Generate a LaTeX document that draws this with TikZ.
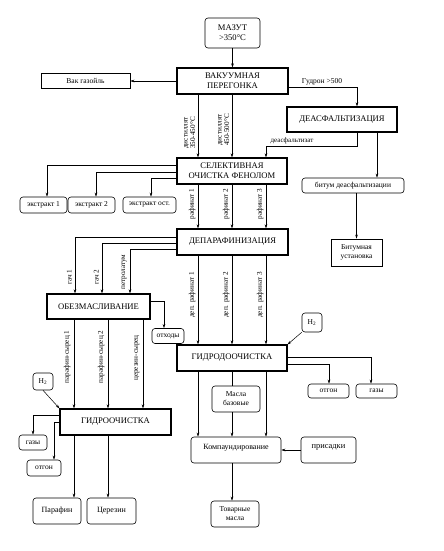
\documentclass[tikz,border=0pt]{standalone}
\usepackage{fontspec}
\setmainfont{Liberation Serif}
\usetikzlibrary{arrows.meta}
\begin{document}
\begin{tikzpicture}[x=1pt,y=-1pt,
  every node/.style={inner sep=1pt, align=center},
  tbox/.style={draw, line width=1.1pt, font=\fontsize{8.6}{10}\selectfont},
  rbox/.style={draw, line width=0.6pt, rounded corners=3pt, font=\fontsize{7.5}{9}\selectfont},
  sbox/.style={draw, line width=0.6pt, font=\fontsize{7.5}{9}\selectfont},
  lbl/.style={font=\fontsize{7.2}{7.6}\selectfont, rotate=90, anchor=south, inner sep=1.5pt},
  txt/.style={font=\fontsize{7.5}{9}\selectfont},
  arr/.style={draw, line width=0.5pt, -{Stealth[length=4pt,width=2.6pt]}},
  ln/.style={draw, line width=0.5pt},
]
\useasboundingbox[fill=white] (0,0) rectangle (444,551);

% columns
\coordinate (xA) at (198,0);
\coordinate (xB) at (232,0);
\coordinate (xC) at (266,0);

% nodes
\node[rbox, minimum width=55pt, minimum height=30pt, font=\fontsize{8.6}{10}\selectfont] (mazut) at (232.5,33) {МАЗУТ\\>350°С};
\node[tbox, minimum width=111pt, minimum height=26pt] (vp) at (232.5,81) {ВАКУУМНАЯ\\ПЕРЕГОНКА};
\node[sbox, minimum width=89pt, minimum height=15pt] (vak) at (85.5,81) {Вак газойль};
\node[tbox, minimum width=110pt, minimum height=25pt] (deasf) at (342,119.5) {ДЕАСФАЛЬТИЗАЦИЯ};
\node[tbox, minimum width=110pt, minimum height=26pt] (sel) at (232,171) {СЕЛЕКТИВНАЯ\\ОЧИСТКА ФЕНОЛОМ};
\node[rbox, minimum width=47pt, minimum height=16pt] (e1) at (43.5,205) {экстракт 1};
\node[rbox, minimum width=47pt, minimum height=16pt] (e2) at (91.5,205) {экстракт 2};
\node[rbox, minimum width=53pt, minimum height=16pt] (e3) at (149.5,205) {экстракт ост.};
\node[rbox, minimum width=102pt, minimum height=15pt] (bitum) at (353,185.5) {битум деасфальтизации};
\node[sbox, line width=0.9pt, minimum width=51pt, minimum height=27pt] (bu) at (356.5,252.5) {Битумная\\установка};
\node[tbox, minimum width=111pt, minimum height=26pt] (dep) at (232.5,242) {ДЕПАРАФИНИЗАЦИЯ};
\node[tbox, minimum width=103pt, minimum height=25pt] (obez) at (98.5,306.5) {ОБЕЗМАСЛИВАНИЕ};
\node[rbox, minimum width=32pt, minimum height=15pt] (otx) at (168,336) {отходы};
\node[tbox, minimum width=110pt, minimum height=26pt] (gdo) at (232,358) {ГИДРОДООЧИСТКА};
\node[rbox, minimum width=20pt, minimum height=19pt] (h2r) at (312,322.5) {H\textsubscript{2}};
\node[rbox, minimum width=41pt, minimum height=14pt] (otgR) at (328.5,391) {отгон};
\node[rbox, minimum width=41pt, minimum height=14pt] (gazR) at (376.5,391) {газы};
\node[rbox, minimum width=48pt, minimum height=26pt] (masla) at (236,399) {Масла\\базовые};
\node[rbox, minimum width=20pt, minimum height=17pt] (h2l) at (43,381.5) {H\textsubscript{2}};
\node[tbox, minimum width=111pt, minimum height=26pt] (go) at (115.5,422) {ГИДРООЧИСТКА};
\node[rbox, minimum width=28pt, minimum height=15pt] (gazL) at (33,442.5) {газы};
\node[rbox, minimum width=34pt, minimum height=16pt] (otgL) at (44,468) {отгон};
\node[rbox, minimum width=48pt, minimum height=26pt, font=\fontsize{8}{9.5}\selectfont] (paraf) at (57,511) {Парафин};
\node[rbox, minimum width=49pt, minimum height=26pt, font=\fontsize{8}{9.5}\selectfont] (cerez) at (111.5,511) {Церезин};
\node[rbox, minimum width=90pt, minimum height=26pt, text depth=7pt, font=\fontsize{8}{9.5}\selectfont] (komp) at (236,450) {Компаундирование};
\node[rbox, minimum width=55pt, minimum height=26pt, text depth=7pt, font=\fontsize{8.4}{9.5}\selectfont] (pris) at (328.5,450) {присадки};
\node[rbox, minimum width=48pt, minimum height=26pt] (tov) at (235,514) {Товарные\\масла};

% connectors top
\draw[arr] (mazut) -- (vp);
\draw[arr] (vp.west) -- (vp.west -| vak.east);
\coordinate (g1) at (357,87);
\draw[arr] (vp.east |- g1) -- (g1) -- (deasf.north -| g1);
\node[txt, anchor=south] (gudlbl) at (322,86) {Гудрон >500};

\draw[arr] (vp.south -| xA) -- (sel.north -| xA);
\draw[arr] (vp.south -| xB) -- (sel.north -| xB);
\node[lbl] (dl1) at (197,133) {дистиллят\\350-450°С};
\node[lbl] (dl2) at (231,130) {дистиллят\\450-500°С};

\coordinate (d1) at (357,146);
\draw[arr] (deasf.south -| d1) -- (d1) -- (d1 -| xC) -- (sel.north -| xC);
\node[txt, anchor=south, font=\fontsize{7}{8}\selectfont] (deaslbl) at (292,145.5) {деасфальтизат};
\coordinate (b1) at (377,0);
\draw[arr] (deasf.south -| b1) -- (bitum.north -| b1);
\draw[arr] (bitum.south -| bu.north) -- (bu.north);

% extracts
\coordinate (ex1) at (47,165);
\coordinate (ex2) at (96,172);
\coordinate (ex3) at (151,178);
\draw[arr] (sel.west |- ex1) -- (ex1) -- (e1.north -| ex1);
\draw[arr] (sel.west |- ex2) -- (ex2) -- (e2.north -| ex2);
\draw[arr] (sel.west |- ex3) -- (ex3) -- (e3.north -| ex3);

% raffinates
\draw[arr] (sel.south -| xA) -- (dep.north -| xA);
\draw[arr] (sel.south -| xB) -- (dep.north -| xB);
\draw[arr] (sel.south -| xC) -- (dep.north -| xC);
\node[lbl] (r1) at (197,204) {рафинат 1};
\node[lbl] (r2) at (231,204) {рафинат 2};
\node[lbl] (r3) at (265,204) {рафинат 3};

% gach
\coordinate (gc1) at (75,237);
\coordinate (gc2) at (102,243);
\coordinate (gc3) at (130,249);
\draw[arr] (dep.west |- gc1) -- (gc1) -- (obez.north -| gc1);
\draw[arr] (dep.west |- gc2) -- (gc2) -- (obez.north -| gc2);
\draw[arr] (dep.west |- gc3) -- (gc3) -- (obez.north -| gc3);
\node[lbl] (gl1) at (73.5,277) {гач 1};
\node[lbl] (gl2) at (100.5,277) {гач 2};
\node[lbl] (gl3) at (128.5,272) {петролатум};

\coordinate (ox) at (164,301);
\draw[arr] (obez.east |- ox) -- (ox) -- (otx.north -| ox);

% dep raffinates
\draw[arr] (dep.south -| xA) -- (gdo.north -| xA);
\draw[arr] (dep.south -| xB) -- (gdo.north -| xB);
\draw[arr] (dep.south -| xC) -- (gdo.north -| xC);
\node[lbl] (dr1) at (197,295) {деп. рафинат 1};
\node[lbl] (dr2) at (231,295) {деп. рафинат 2};
\node[lbl] (dr3) at (265,295) {деп. рафинат 3};

\draw[arr] (h2r.south west) -- (gdo.north east);
\coordinate (gr1) at (371,357);
\coordinate (gr2) at (329,364);
\draw[arr] (gdo.east |- gr1) -- (gr1) -- (gazR.north -| gr1);
\draw[arr] (gdo.east |- gr2) -- (gr2) -- (otgR.north -| gr2);

% paraffin
\coordinate (p1) at (74,0);
\coordinate (p2) at (108,0);
\coordinate (p3) at (143,0);
\draw[arr] (obez.south -| p1) -- (go.north -| p1);
\draw[arr] (obez.south -| p2) -- (go.north -| p2);
\draw[arr] (obez.south -| p3) -- (go.north -| p3);
\node[lbl] (pl1) at (72,357) {парафин-сырец 1};
\node[lbl] (pl2) at (106,357) {парафин-сырец 2};
\node[lbl] (pl3) at (141,358) {церезин-сырец};

\draw[arr] (h2l.south) -- (go.north west);
\coordinate (gw1) at (33,415);
\coordinate (gw2) at (54,422);
\draw[arr] (go.west |- gw1) -- (gw1) -- (gazL.north -| gw1);
\draw[arr] (go.west |- gw2) -- (gw2) -- (otgL.north -| gw2);
\draw[arr] (go.south -| p1) -- (paraf.north -| p1);
\draw[arr] (go.south -| p2) -- (cerez.north -| p2);

% compounding
\draw[arr] (gdo.south -| xA) -- (komp.north -| xA);
\draw[arr] (gdo.south -| xC) -- (komp.north -| xC);
\draw[ln] (gdo.south -| xB) -- (masla.north -| xB);
\draw[arr] (masla.south -| xB) -- (komp.north -| xB);
\draw[arr] (pris.west) -- (komp.east);
\draw[arr] (komp.south -| xB) -- (tov.north -| xB);
\end{tikzpicture}
\end{document}
